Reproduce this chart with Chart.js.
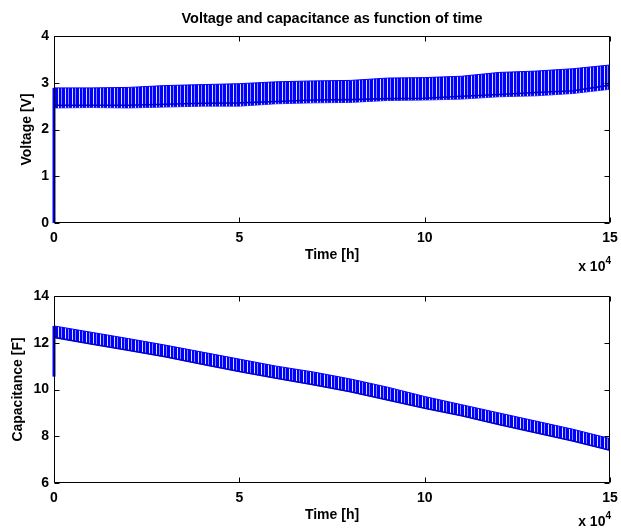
<!DOCTYPE html>
<html><head><meta charset="utf-8">
<script src="https://cdn.jsdelivr.net/npm/chart.js@4/dist/chart.umd.min.js"></script>
<style>
html,body{margin:0;padding:0;background:#fff;}
#w{position:relative;width:621px;height:529px;background:#fff;}
#top{position:absolute;left:0;top:0;width:621px;height:275px;}
#bot{position:absolute;left:0;top:275px;width:621px;height:254px;}
</style></head><body>
<div id="w"><div id="top"><canvas id="c1"></canvas></div><div id="bot"><canvas id="c2"></canvas></div></div>
<script>
// ---- data ----
const timeH = [0,10000,20000,30000,40000,50000,60000,70000,80000,90000,100000,110000,120000,130000,140000,150000];
const voltageUpper = [2.89,2.89,2.90,2.94,2.96,2.98,3.02,3.04,3.05,3.10,3.11,3.14,3.22,3.25,3.30,3.38];
const voltageLower = [2.46,2.47,2.46,2.48,2.50,2.50,2.55,2.57,2.58,2.62,2.63,2.65,2.70,2.72,2.77,2.86];
const voltageMean  = [2.52,2.52,2.52,2.54,2.56,2.57,2.60,2.63,2.64,2.66,2.67,2.71,2.75,2.79,2.83,2.95];
const voltageStart = [0, 2.89];          // charging spike at t = 0
const capUpper = [12.72,12.45,12.18,11.90,11.60,11.30,11.00,10.75,10.45,10.10,9.70,9.35,9.00,8.65,8.30,7.90];
const capLower = [12.23,11.95,11.68,11.40,11.08,10.77,10.48,10.20,9.90,9.55,9.20,8.88,8.50,8.15,7.80,7.40];
const capStart = [10.55, 12.72];         // initial value jump at t = 0
const xTickLabels = ['0','5','10','15'];
const xExponent = '4';
const voltageTicks = [0,1,2,3,4];
const capTicks = [6,8,10,12,14];

const titleText = 'Voltage and capacitance as function of time';

// ---- helpers ----
const pts = (xs, ys) => ys.map((y, i) => ({x: xs[i], y}));
const startPts = (ys) => ys.map(y => ({x: timeH[0], y}));

function stripePattern() {
  const c = document.createElement('canvas');
  c.width = 7; c.height = 1;
  const g = c.getContext('2d');
  const B = 'rgb(0,0,255)';
  const cols = [B, B, 'rgb(225,225,255)', B, B, 'rgb(140,140,255)', B];
  cols.forEach((col, i) => { g.fillStyle = col; g.fillRect(i, 0, 1, 1); });
  return g.createPattern(c, 'repeat');
}
const pat = stripePattern();

const FONT = "'Liberation Sans', Arial, sans-serif";

const matlabBox = {
  id: 'matlabBox',
  afterDraw(chart, args, opts) {
    const {ctx, chartArea: a, scales} = chart;
    ctx.save();
    ctx.strokeStyle = '#000';
    ctx.lineWidth = 1;
    const L = Math.round(a.left) + 0.5, R = Math.round(a.right) - 0.5;
    const T = Math.round(a.top) + 0.5, B = Math.round(a.bottom) - 0.5;
    ctx.beginPath();
    ctx.rect(L, T, R - L, B - T);
    const tl = 5;
    scales.y.ticks.forEach(t => {
      const y = Math.round(scales.y.getPixelForValue(t.value)) + 0.5;
      ctx.moveTo(L, y); ctx.lineTo(L + tl, y);
      ctx.moveTo(R, y); ctx.lineTo(R - tl, y);
    });
    scales.x.ticks.forEach(t => {
      const x = Math.round(scales.x.getPixelForValue(t.value)) + 0.5;
      ctx.moveTo(x, B); ctx.lineTo(x, B - tl);
      ctx.moveTo(x, T); ctx.lineTo(x, T + tl);
    });
    ctx.stroke();
    // exponent label "x 10^4"
    ctx.fillStyle = '#000';
    ctx.textBaseline = 'alphabetic';
    ctx.font = 'bold 10px ' + FONT;
    const wSup = ctx.measureText(xExponent).width;
    ctx.font = 'bold 14px ' + FONT;
    const base = 'x 10';
    const wBase = ctx.measureText(base).width;
    const right = a.right + 1;
    const yb = a.bottom + opts.expDy;
    ctx.textAlign = 'left';
    ctx.fillText(base, right - wSup - wBase, yb);
    ctx.font = 'bold 10px ' + FONT;
    ctx.fillText(xExponent, right - wSup, yb - 7);
    ctx.restore();
  }
};

function xScale(titlePadBottom, h) {
  return {
    type: 'linear', min: 0, max: 150000,
    afterBuildTicks: s => { s.ticks = xTickLabels.map((l, i) => ({value: i * 50000})); },
    ticks: { callback: (v) => xTickLabels[Math.round(v / 50000)], font: {family: FONT, size: 14, weight: 'bold'}, color: '#000', padding: 7, maxRotation: 0, autoSkip: false },
    grid: { display: false, drawTicks: false },
    border: { display: false },
    title: { display: true, text: 'Time [h]', font: {family: FONT, size: 14, weight: 'bold'}, color: '#000', padding: {top: 0, bottom: titlePadBottom} },
    afterFit: s => { s.height = h; s.paddingLeft = 0; s.paddingRight = 0; }
  };
}
function yScale(min, max, ticks, text, titlePad) {
  return {
    min, max,
    afterBuildTicks: s => { s.ticks = ticks.map(v => ({value: v})); },
    ticks: { font: {family: FONT, size: 14, weight: 'bold'}, color: '#000', padding: 5 },
    grid: { display: false, drawTicks: false },
    border: { display: false },
    title: { display: true, text, font: {family: FONT, size: 14, weight: 'bold'}, color: '#000', padding: {top: titlePad, bottom: 0} },
    afterFit: s => { s.width = 54; s.paddingTop = 0; s.paddingBottom = 0; }
  };
}

const common = {
  type: 'line',
  plugins: [matlabBox],
};

new Chart(document.getElementById('c1'), {
  ...common,
  data: { datasets: [
    { data: pts(timeH, voltageMean), borderColor: 'rgb(0,0,200)', borderWidth: 1.6, pointRadius: 0, fill: false },
    { data: pts(timeH, voltageUpper), borderColor: 'rgb(0,0,255)', borderWidth: 1, pointRadius: 0, fill: '+1', backgroundColor: pat },
    { data: pts(timeH, voltageLower), borderColor: 'rgb(60,60,255)', borderWidth: 1, pointRadius: 0, fill: false },
    { data: startPts(voltageStart), borderColor: 'rgb(0,0,255)', borderWidth: 3, pointRadius: 0, fill: false, clip: false }
  ]},
  options: {
    responsive: true, maintainAspectRatio: false, animation: false, devicePixelRatio: 1,
    layout: { padding: { left: 0, right: 11, top: 0, bottom: 0 } },
    plugins: {
      legend: { display: false }, tooltip: { enabled: false },
      title: { display: true, text: titleText, fullSize: false, color: '#000', font: {family: FONT, size: 14.5, weight: 'bold'}, padding: {top: 10, bottom: 8.6} },
      matlabBox: { expDy: 47.5 }
    },
    scales: { x: xScale(11.5, 52), y: yScale(0, 4, voltageTicks, 'Voltage [V]', 18.5) }
  }
});

new Chart(document.getElementById('c2'), {
  ...common,
  data: { datasets: [
    { data: pts(timeH, capLower), borderColor: 'rgb(0,0,200)', borderWidth: 1.6, pointRadius: 0, fill: false },
    { data: pts(timeH, capUpper), borderColor: 'rgb(0,0,255)', borderWidth: 1, pointRadius: 0, fill: '+1', backgroundColor: pat },
    { data: pts(timeH, capLower), borderColor: 'rgb(60,60,255)', borderWidth: 1, pointRadius: 0, fill: false },
    { data: startPts(capStart), borderColor: 'rgb(0,0,255)', borderWidth: 3, pointRadius: 0, fill: false, clip: false }
  ]},
  options: {
    responsive: true, maintainAspectRatio: false, animation: false, devicePixelRatio: 1,
    layout: { padding: { left: 0, right: 11, top: 21, bottom: 0 } },
    plugins: {
      legend: { display: false }, tooltip: { enabled: false }, title: { display: false },
      matlabBox: { expDy: 42.7 }
    },
    scales: { x: xScale(5.6, 46), y: yScale(6, 14, capTicks, 'Capacitance [F]', 9.6) }
  }
});
</script>
</body></html>
